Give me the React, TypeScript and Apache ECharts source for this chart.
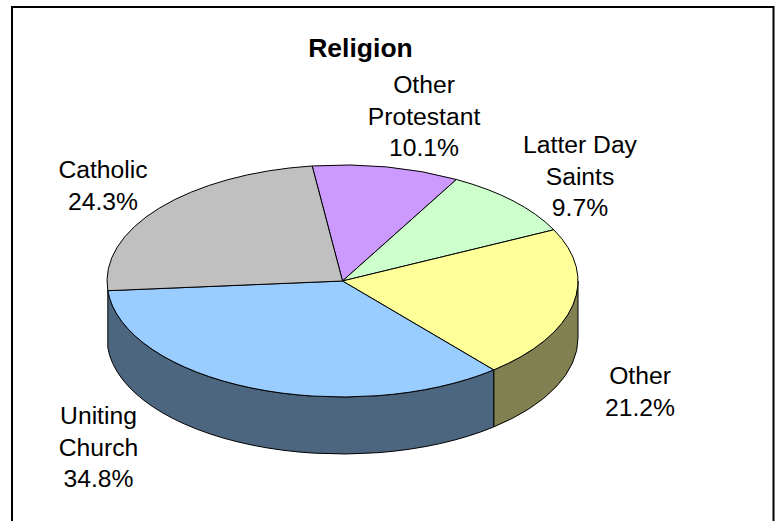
import React, { useEffect, useRef } from "react";
import * as echarts from "echarts";

const categories = ["Other\nProtestant", "Latter Day\nSaints", "Other", "Uniting\nChurch", "Catholic"];
const shares = [10.1, 9.7, 21.2, 34.8, 24.3];
const topColors = ["#CC99FF", "#CCFFCC", "#FFFF99", "#99CCFF", "#C0C0C0"];
const sideColors = ["#664D80", "#668066", "#808050", "#4D6680", "#606060"];

const CX = 342.5, CY = 281, RX = 235.5, RY = 116, DEPTH = 57, START = -7.4;
const total = shares.reduce((a, b) => a + b, 0);
const bounds: number[] = [START];
shares.forEach((v) => bounds.push(bounds[bounds.length - 1] + (v / total) * 360));

const pt = (deg: number, dy = 0) => {
  const t = (deg * Math.PI) / 180;
  return [CX + RX * Math.sin(t), CY + dy - RY * Math.cos(t)];
};
const f = (p: number[]) => `${p[0].toFixed(2)} ${p[1].toFixed(2)}`;

const renderTop = (params: any, api: any) => {
  const a = bounds[params.dataIndex];
  const b = a + (api.value(0) / total) * 360;
  const large = b - a > 180 ? 1 : 0;
  return {
    type: "path",
    shape: { pathData: `M${CX} ${CY}L${f(pt(a))}A${RX} ${RY} 0 ${large} 1 ${f(pt(b))}Z` },
    style: { fill: topColors[params.dataIndex], stroke: "#000", lineWidth: 1, lineJoin: "round" },
  };
};

const renderSide = (params: any, api: any) => {
  const s0 = bounds[params.dataIndex];
  const a = Math.max(s0, 90);
  const b = Math.min(s0 + (api.value(0) / total) * 360, 270);
  if (b - a < 8) return { type: "group", children: [] };
  const p = pt(a), q = pt(b), p2 = pt(a, DEPTH), q2 = pt(b, DEPTH);
  return {
    type: "path",
    shape: {
      pathData: `M${f(p)}L${f(p2)}A${RX} ${RY} 0 0 1 ${f(q2)}L${f(q)}A${RX} ${RY} 0 0 0 ${f(p)}Z`,
    },
    style: { fill: sideColors[params.dataIndex], stroke: "#000", lineWidth: 1, lineJoin: "round" },
  };
};

const labelAnchors = [
  [424, 69],
  [580, 129],
  [640, 360],
  [98.5, 400],
  [103, 154],
];

export default function App() {
  const ref = useRef<HTMLDivElement>(null);
  useEffect(() => {
    const chart = echarts.init(ref.current!, null, { renderer: "svg" });
    const font = '"Liberation Sans", Arial, sans-serif';
    chart.setOption({
      animation: false,
      backgroundColor: "#fff",
      graphic: [
        {
          type: "rect",
          z: 0,
          shape: { x: 12, y: 7, width: 761.5, height: 530 },
          style: { fill: "#fff", stroke: "#000", lineWidth: 2 },
        },
        {
          type: "text",
          z: 10,
          x: 360.5,
          y: 48,
          style: {
            text: "Religion",
            fill: "#000",
            font: `bold 26.5px ${font}`,
            align: "center",
            verticalAlign: "middle",
          },
        },
        ...categories.map((c, i) => ({
          type: "text",
          z: 10,
          x: labelAnchors[i][0],
          y: labelAnchors[i][1],
          style: {
            text: `${c}\n${shares[i].toFixed(1)}%`,
            fill: "#000",
            font: `24.7px ${font}`,
            lineHeight: 31.5,
            align: "center",
            verticalAlign: "top",
          },
        })),
      ],
      series: [
        {
          type: "custom",
          coordinateSystem: "none",
          z: 2,
          silent: true,
          data: shares.map((v) => [v]),
          renderItem: renderSide,
        },
        {
          type: "custom",
          coordinateSystem: "none",
          z: 3,
          silent: true,
          data: shares.map((v) => [v]),
          renderItem: renderTop,
        },
      ],
    });
    return () => chart.dispose();
  }, []);
  return <div ref={ref} style={{ position: "absolute", left: 0, top: 0, width: 778, height: 521 }} />;
}
